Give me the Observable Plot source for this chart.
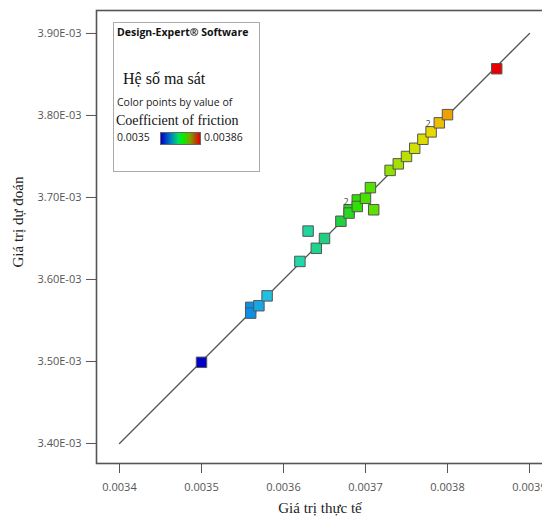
<!DOCTYPE html>
<html>
<head>
<meta charset="utf-8">
<script src="https://cdn.jsdelivr.net/npm/d3@7"></script>
<script src="https://cdn.jsdelivr.net/npm/@observablehq/plot@0.6"></script>
<style>
  html, body { margin: 0; padding: 0; overflow: hidden; background: #fff; }
  #wrap { position: relative; width: 542px; height: 516px; overflow: hidden; }
  #wrap svg { position: absolute; left: 0; top: 0; max-width: none !important; width: 560px !important; height: 516px !important; }
  .t { position: absolute; white-space: nowrap; color: #222; }
  .sans { font-family: "Open Sans", sans-serif; }
  .serif { font-family: "Liberation Serif", serif; }
</style>
</head>
<body>
<div id="wrap"></div>
<script>
// ---- data ----
const actual = [0.00350, 0.00356, 0.00356, 0.00357, 0.00358, 0.00362, 0.00363, 0.00364, 0.00365, 0.00367,
  0.00368, 0.00368, 0.00369, 0.00369, 0.00370, 0.003706, 0.00371, 0.00373, 0.00374, 0.00375,
  0.00376, 0.00377, 0.00378, 0.00379, 0.00380, 0.00386];
const predicted = [0.003499, 0.003566, 0.003559, 0.003568, 0.003580, 0.003622, 0.003659, 0.003638, 0.003650, 0.003671,
  0.003685, 0.003681, 0.003697, 0.003689, 0.003699, 0.003712, 0.003685, 0.003733, 0.003741, 0.003750,
  0.003760, 0.003771, 0.003780, 0.003791, 0.003801, 0.003857];
const labelIdx = [10, 22];          // points carrying a "2" (overlap count) label
const labelText = ["2", "2"];
const xTicks = [0.0034, 0.0035, 0.0036, 0.0037, 0.0038, 0.0039];
const yTicks = [0.0034, 0.0035, 0.0036, 0.0037, 0.0038, 0.0039];
const yTickLabels = ["3.40E-03", "3.50E-03", "3.60E-03", "3.70E-03", "3.80E-03", "3.90E-03"];
const diagX = [0.0034, 0.0039];
const colorStops = [0.0035, 0.00356, 0.00358, 0.00362, 0.00365, 0.00367, 0.00369, 0.00371, 0.00373, 0.00376, 0.00378, 0.00379, 0.0038, 0.00386];
const colorRange = ["#0000c8", "#0a90e8", "#20c0e0", "#1ed8a8", "#20d080", "#22d040", "#30e000", "#60e000", "#90e000", "#d0e000", "#e8d800", "#e8c000", "#f0a000", "#e80000"];

const pts = actual.map((a, i) => ({a, p: predicted[i]}));
const labels = labelIdx.map((k, i) => ({a: actual[k], p: predicted[k], t: labelText[i]}));
const diag = diagX.map(v => ({v}));

const chart = Plot.plot({
  width: 560, height: 516,
  marginLeft: 96, marginRight: 8, marginTop: 10, marginBottom: 53,
  style: {fontFamily: "'Open Sans', sans-serif", fontSize: "11px", color: "#555", background: "transparent", maxWidth: "none"},
  x: {domain: [0.00337195, 0.00392805]},
  y: {domain: [0.0033756, 0.0039280]},
  color: {type: "linear", domain: colorStops, range: colorRange},
  marks: [
    Plot.line(diag, {x: "v", y: "v", stroke: "#555", strokeWidth: 1.3}),
    Plot.dot(pts, {x: "a", y: "p", symbol: "square", r: 5.9, fill: d => d.a, stroke: "#555", strokeWidth: 1}),
    Plot.text(labels, {x: "a", y: "p", text: "t", dx: -3, dy: -8, fill: "#444", fontSize: 9}),
    Plot.frame({stroke: "#555", strokeWidth: 1.6}),
    Plot.axisY({ticks: yTicks, tickSize: 10, tickPadding: 5, tickFormat: d => yTickLabels[yTicks.indexOf(d)], label: null, stroke: "#555"}),
    Plot.axisX({ticks: xTicks, tickSize: 10, tickPadding: 10, tickFormat: d => d.toFixed(4), label: null, stroke: "#555"})
  ]
});

const wrap = document.getElementById("wrap");
wrap.appendChild(chart);

function addText(html, cls, style) {
  const d = document.createElement("div");
  d.className = "t " + cls;
  d.innerHTML = html;
  Object.assign(d.style, style);
  wrap.appendChild(d);
  return d;
}

// legend box
const box = document.createElement("div");
Object.assign(box.style, {position: "absolute", left: "113px", top: "22px", width: "145px", height: "148px", border: "1px solid #aaa", background: "#fff"});
wrap.appendChild(box);
addText("Design-Expert® Software", "sans", {left: "117px", top: "25px", fontSize: "10.5px", fontWeight: "bold", color: "#111"});
addText("Hệ số ma sát", "serif", {left: "123px", top: "70px", fontSize: "16px", color: "#111"});
addText("Color points by value of", "sans", {left: "117px", top: "95px", fontSize: "10.5px", color: "#222"});
addText("Coefficient of friction", "serif", {left: "116px", top: "113px", fontSize: "14px", color: "#111"});
addText("0.0035", "sans", {left: "117px", top: "130px", fontSize: "10.5px", color: "#222"});
addText("0.00386", "sans", {left: "204px", top: "130px", fontSize: "10.5px", color: "#222"});
const grad = document.createElement("div");
Object.assign(grad.style, {position: "absolute", left: "160px", top: "132px", width: "39px", height: "11px",
  border: "1px solid #666",
  background: "linear-gradient(to right, #0000c8, #0080c0 25%, #00e060 45%, #00f000 55%, #80a000 75%, #e00000)"});
wrap.appendChild(grad);

// axis titles
addText("Giá trị thực tế", "serif", {left: "320px", top: "500px", fontSize: "15px", color: "#222", transform: "translateX(-50%)"});
addText("Giá trị dự đoán", "serif", {left: "18px", top: "222px", fontSize: "15px", color: "#222", transform: "translate(-50%, -50%) rotate(-90deg)"});
</script>
</body>
</html>
